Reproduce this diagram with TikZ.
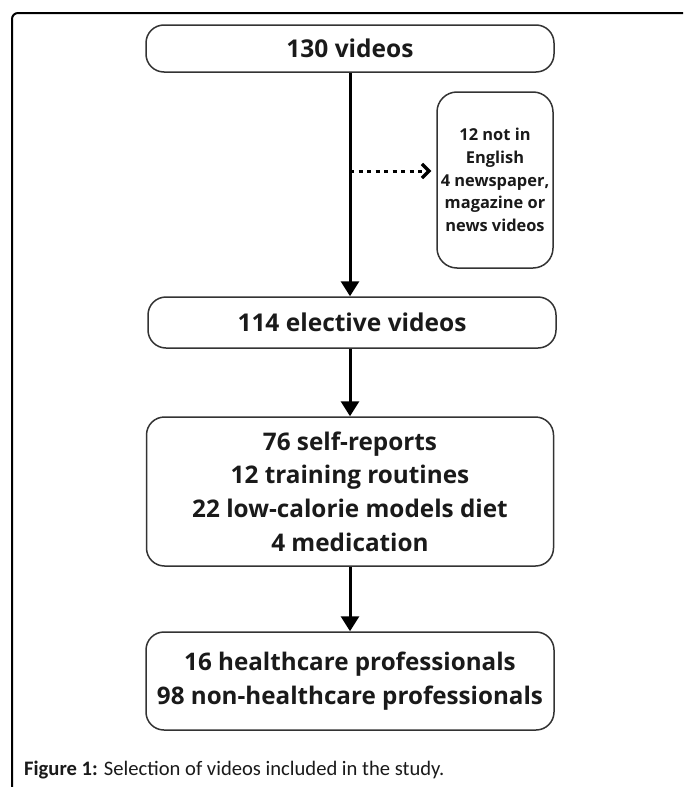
\documentclass[tikz,border=0pt]{standalone}
\usepackage{fontspec}
\setmainfont{Open Sans}
\newfontfamily\capfont{Carlito}
\usetikzlibrary{arrows.meta}
\definecolor{boxline}{HTML}{333333}
\definecolor{txt}{HTML}{1A1A1A}
\begin{document}
\begin{tikzpicture}[x=1pt,y=-1pt,
  flowbox/.style={draw=boxline,line width=1.5pt,rounded corners=18pt,align=center,
    text=txt,font=\bfseries\fontsize{24.5}{37}\selectfont,inner sep=0pt},
  mainarrow/.style={line width=3pt,-{Triangle[length=15pt,width=18pt]}},
  sidearrow/.style={line width=3pt,dash pattern=on 4pt off 4.5pt,
    -{Straight Barb[length=7pt,width=14pt,line width=3.2pt]}}]
\useasboundingbox (0,0) rectangle (683,787);
\clip (0,0) rectangle (683,787);
\fill[white] (0,0) rectangle (683,787);
% frame
\draw[line width=2pt,rounded corners=6pt] (12,800) -- (12,13) -- (700,13);
% boxes
\node[flowbox,minimum width=408pt,minimum height=47pt] (b1) at (350,48.5) {130 videos};
\node[flowbox,minimum width=116pt,minimum height=176pt,rounded corners=20pt,
  font=\bfseries\fontsize{16.4}{22.7}\selectfont] (side) at (495,180)
  {12 not in\\English\\4 newspaper,\\magazine or\\news videos};
\node[flowbox,minimum width=408pt,minimum height=51pt] (b2) at (352,322.5) {114 elective videos};
\node[flowbox,minimum width=407pt,minimum height=149pt,
  font=\bfseries\fontsize{24.3}{33.7}\selectfont] (b3) at (350,491.5)
  {76 self-reports\\12 training routines\\22 low-calorie models diet\\4 medication};
\node[flowbox,minimum width=408pt,minimum height=98pt,
  font=\bfseries\fontsize{24.2}{34}\selectfont] (b4) at (350,681)
  {16 healthcare professionals\\98 non-healthcare professionals};
% connectors
\coordinate (d) at (350,171);
\draw[mainarrow] (b1.south) -- (b1.south |- b2.north);
\draw[mainarrow] (b2.south -| b3.north) -- (b3.north);
\draw[mainarrow] (b3.south) -- (b4.north);
\draw[sidearrow] (d) -- ([xshift=-5pt]d -| side.west);
% caption
\node[anchor=west,inner sep=0pt,font=\capfont\fontsize{20.6}{24}\selectfont,text=txt] (cap) at (24,770)
  {\textbf{Figure 1:} Selection of videos included in the study.};
\end{tikzpicture}
\end{document}
